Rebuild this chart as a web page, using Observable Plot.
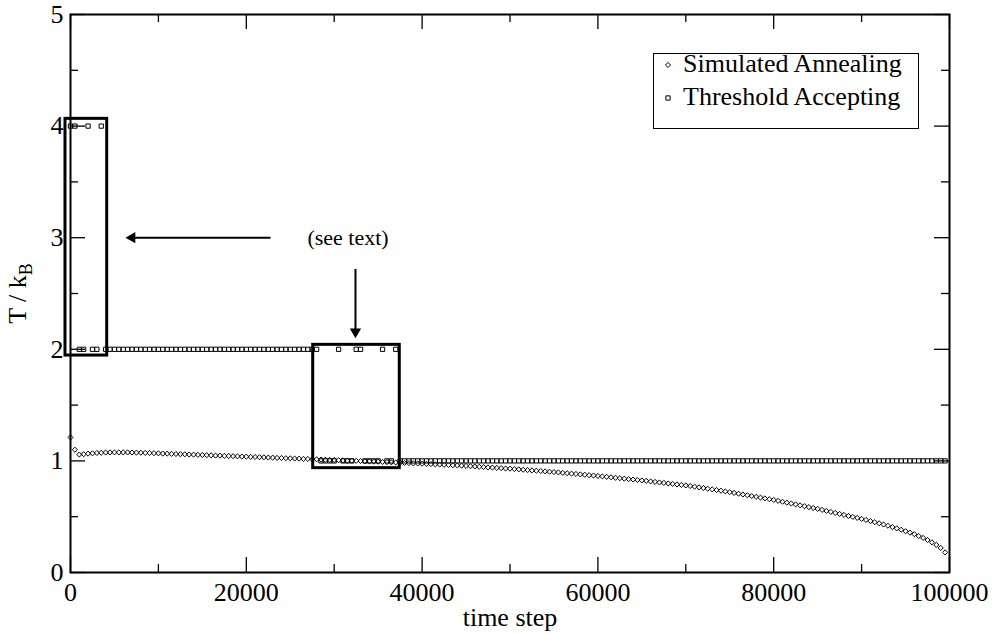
<!DOCTYPE html>
<html>
<head>
<meta charset="utf-8">
<script src="https://cdn.jsdelivr.net/npm/d3@7"></script>
<script src="https://cdn.jsdelivr.net/npm/@observablehq/plot@0.6"></script>
<style>
  body { margin: 0; background: #fff; }
  #wrap { position: relative; width: 994px; height: 634px; }
  #legend { position: absolute; left: 0; top: 0; pointer-events: none; }
</style>
</head>
<body>
<div id="wrap"></div>
<script>
// ---------- data ----------
const timeSteps = [
  0,500,1000,1500,2000,2500,3000,3500,4000,4500,5000,5500,6000,6500,7000,7500,8000,8500,9000,9500,
  10000,10500,11000,11500,12000,12500,13000,13500,14000,14500,15000,15500,16000,16500,17000,17500,18000,18500,19000,19500,
  20000,20500,21000,21500,22000,22500,23000,23500,24000,24500,25000,25500,26000,26500,27000,27500,28000,28500,29000,29500,
  30000,30500,31000,31500,32000,32500,33000,33500,34000,34500,35000,35500,36000,36500,37000,37500,38000,38500,39000,39500,
  40000,40500,41000,41500,42000,42500,43000,43500,44000,44500,45000,45500,46000,46500,47000,47500,48000,48500,49000,49500,
  50000,50500,51000,51500,52000,52500,53000,53500,54000,54500,55000,55500,56000,56500,57000,57500,58000,58500,59000,59500,
  60000,60500,61000,61500,62000,62500,63000,63500,64000,64500,65000,65500,66000,66500,67000,67500,68000,68500,69000,69500,
  70000,70500,71000,71500,72000,72500,73000,73500,74000,74500,75000,75500,76000,76500,77000,77500,78000,78500,79000,79500,
  80000,80500,81000,81500,82000,82500,83000,83500,84000,84500,85000,85500,86000,86500,87000,87500,88000,88500,89000,89500,
  90000,90500,91000,91500,92000,92500,93000,93500,94000,94500,95000,95500,96000,96500,97000,97500,98000,98500,99000,99500
];

const simulatedAnnealing = [
  1.210,1.100,1.057,1.060,1.065,1.068,1.071,1.073,1.075,1.076,1.076,1.076,1.076,1.076,1.075,1.074,1.073,1.072,1.071,1.069,
  1.068,1.066,1.065,1.063,1.062,1.060,1.059,1.057,1.056,1.054,1.053,1.051,1.050,1.048,1.047,1.045,1.044,1.042,1.041,1.039,
  1.038,1.036,1.035,1.033,1.032,1.030,1.029,1.027,1.026,1.024,1.023,1.021,1.020,1.018,1.017,1.015,1.014,1.012,1.011,1.009,
  1.008,1.006,1.005,1.003,1.002,1.000,0.999,0.997,0.996,0.994,0.993,0.991,0.989,0.987,0.986,0.984,0.982,0.980,0.978,0.977,
  0.975,0.973,0.971,0.969,0.967,0.965,0.963,0.961,0.959,0.957,0.955,0.952,0.950,0.947,0.945,0.942,0.940,0.937,0.935,0.932,
  0.930,0.927,0.924,0.921,0.918,0.915,0.912,0.909,0.906,0.903,0.900,0.897,0.893,0.890,0.886,0.883,0.879,0.876,0.872,0.869,
  0.865,0.861,0.857,0.853,0.849,0.845,0.841,0.837,0.833,0.829,0.825,0.821,0.816,0.812,0.807,0.803,0.798,0.794,0.789,0.785,
  0.780,0.775,0.769,0.763,0.757,0.751,0.745,0.739,0.733,0.726,0.720,0.713,0.706,0.699,0.692,0.685,0.678,0.671,0.664,0.657,
  0.650,0.642,0.634,0.626,0.618,0.610,0.602,0.594,0.586,0.578,0.570,0.561,0.552,0.543,0.534,0.525,0.516,0.507,0.498,0.489,
  0.480,0.471,0.461,0.451,0.441,0.430,0.419,0.407,0.395,0.383,0.370,0.357,0.343,0.327,0.310,0.291,0.270,0.247,0.220,0.180
];

const thresholdAccepting = [
  4,4,2,2,4,2,2,4,2,2,2,2,2,2,2,2,2,2,2,2,
  2,2,2,2,2,2,2,2,2,2,2,2,2,2,2,2,2,2,2,2,
  2,2,2,2,2,2,2,2,2,2,2,2,2,2,2,2,2,1,1,1,
  1,2,1,1,1,2,2,1,1,1,1,2,1,1,2,1,1,1,1,1,
  1,1,1,1,1,1,1,1,1,1,1,1,1,1,1,1,1,1,1,1,
  1,1,1,1,1,1,1,1,1,1,1,1,1,1,1,1,1,1,1,1,
  1,1,1,1,1,1,1,1,1,1,1,1,1,1,1,1,1,1,1,1,
  1,1,1,1,1,1,1,1,1,1,1,1,1,1,1,1,1,1,1,1,
  1,1,1,1,1,1,1,1,1,1,1,1,1,1,1,1,1,1,1,1,
  1,1,1,1,1,1,1,1,1,1,1,1,1,1,1,1,1,1,1,1
];

const seriesNames = ["Simulated Annealing", "Threshold Accepting"];
const xMajorTicks = [0, 20000, 40000, 60000, 80000, 100000];
const xMinorTicks = [10000, 30000, 50000, 70000, 90000];
const yMajorTicks = [0, 1, 2, 3, 4, 5];
const yMinorTicks = [0.5, 1.5, 2.5, 3.5, 4.5];

// annotations (in data units)
const highlightBoxes = [
  {x1: -570, x2: 4175, y1: 1.944, y2: 4.065},
  {x1: 27610, x2: 37460, y1: 0.935, y2: 2.04}
];
const arrowShafts = [
  {x1: 22750, y1: 3.0, x2: 7000, y2: 3.0},
  {x1: 32420, y1: 2.72, x2: 32420, y2: 2.16}
];
const arrowHeads = [
  {x: 7000, y: 3.0, angle: -90},
  {x: 32420, y: 2.157, angle: 180}
];
const noteLabels = [{x: 31570, y: 3.0, text: "(see text)"}];

// ---------- build ----------
const saData = timeSteps.map((t, i) => ({t, T: simulatedAnnealing[i]}));
const taData = timeSteps.map((t, i) => ({t, T: thresholdAccepting[i]}));

const W = 994, H = 634;
const mL = 70, mR = 45, mT = 14, mB = 62;
const pw = W - mL - mR, ph = H - mT - mB;
const FONT = "'Liberation Serif', 'Times New Roman', Times, serif";
const majorLen = 15, minorLen = 8;

const plot = Plot.plot({
  width: W, height: H,
  marginLeft: mL, marginRight: mR, marginTop: mT, marginBottom: mB,
  style: {fontFamily: FONT, fontSize: "26px", color: "#000", background: "#fff", overflow: "visible"},
  x: {domain: [0, 100000], ticks: xMajorTicks, tickSize: 0, tickPadding: 10,
      tickFormat: d => String(d), label: "time step", labelAnchor: "center", labelArrow: "none", labelOffset: 53},
  y: {domain: [0, 5], ticks: yMajorTicks, tickSize: 0, tickPadding: 7,
      tickFormat: d => String(d), label: "T / kB", labelAnchor: "center", labelArrow: "none", labelOffset: 63},
  marks: [
    // inward ticks on all four sides
    Plot.tickX(xMajorTicks, {x: d => d, insetTop: ph - majorLen, stroke: "#000", strokeWidth: 1.3}),
    Plot.tickX(xMajorTicks, {x: d => d, insetBottom: ph - majorLen, stroke: "#000", strokeWidth: 1.3}),
    Plot.tickX(xMinorTicks, {x: d => d, insetTop: ph - minorLen, stroke: "#000", strokeWidth: 1.3}),
    Plot.tickX(xMinorTicks, {x: d => d, insetBottom: ph - minorLen, stroke: "#000", strokeWidth: 1.3}),
    Plot.tickY(yMajorTicks, {y: d => d, insetRight: pw - majorLen, stroke: "#000", strokeWidth: 1.3}),
    Plot.tickY(yMajorTicks, {y: d => d, insetLeft: pw - majorLen, stroke: "#000", strokeWidth: 1.3}),
    Plot.tickY(yMinorTicks, {y: d => d, insetRight: pw - minorLen, stroke: "#000", strokeWidth: 1.3}),
    Plot.tickY(yMinorTicks, {y: d => d, insetLeft: pw - minorLen, stroke: "#000", strokeWidth: 1.3}),
    // series
    Plot.dot(saData, {x: "t", y: "T", symbol: "diamond2", r: 2.3, fill: "none", stroke: "#000", strokeWidth: 1}),
    Plot.dot(taData, {x: "t", y: "T", symbol: "square", r: 2.4, fill: "none", stroke: "#000", strokeWidth: 1}),
    // annotations
    Plot.rect(highlightBoxes, {x1: "x1", x2: "x2", y1: "y1", y2: "y2", fill: "none", stroke: "#000", strokeWidth: 3}),
    Plot.link(arrowShafts, {x1: "x1", y1: "y1", x2: "x2", y2: "y2", stroke: "#000", strokeWidth: 2}),
    Plot.dot(arrowHeads, {x: "x", y: "y", rotate: "angle", symbol: "triangle", r: 4.2, fill: "#000", stroke: "none"}),
    Plot.text(noteLabels, {x: "x", y: "y", text: "text", fontSize: 22, fontFamily: FONT, fill: "#000"}),
    Plot.frame({stroke: "#000", strokeWidth: 2})
  ]
});

document.getElementById("wrap").appendChild(plot);

// subscript on the y-axis label
const ylab = plot.querySelector('g[aria-label="y-axis label"] text');
if (ylab) {
  ylab.textContent = "";
  const ns = "http://www.w3.org/2000/svg";
  const a = document.createElementNS(ns, "tspan");
  a.textContent = "T / k";
  const b = document.createElementNS(ns, "tspan");
  b.textContent = "B";
  b.setAttribute("font-size", "18");
  b.setAttribute("dy", "6");
  ylab.appendChild(a); ylab.appendChild(b);
}

// legend (inside the plot, top right)
const lg = d3.select("#wrap").append("svg")
  .attr("id", "legend").attr("width", W).attr("height", H)
  .style("font-family", FONT);
const lgBox = {x: 653, y: 53, w: 265, h: 75};
lg.append("rect").attr("x", lgBox.x + 0.5).attr("y", lgBox.y + 0.5).attr("width", lgBox.w).attr("height", lgBox.h)
  .attr("fill", "#fff").attr("stroke", "#000").attr("stroke-width", 1);
const symbols = [d3.symbolDiamond2, d3.symbolSquare];
const symSize = [Math.PI * 2.3 * 2.3, Math.PI * 2.4 * 2.4];
seriesNames.forEach((name, i) => {
  const base = lgBox.y + 19 + i * 33;
  lg.append("path").attr("d", d3.symbol(symbols[i], symSize[i])())
    .attr("transform", `translate(${lgBox.x + 15},${base - 7})`)
    .attr("fill", "none").attr("stroke", "#000").attr("stroke-width", 1);
  lg.append("text").attr("x", lgBox.x + 30).attr("y", base)
    .attr("font-size", 26).attr("fill", "#000").text(name);
});
</script>
</body>
</html>
